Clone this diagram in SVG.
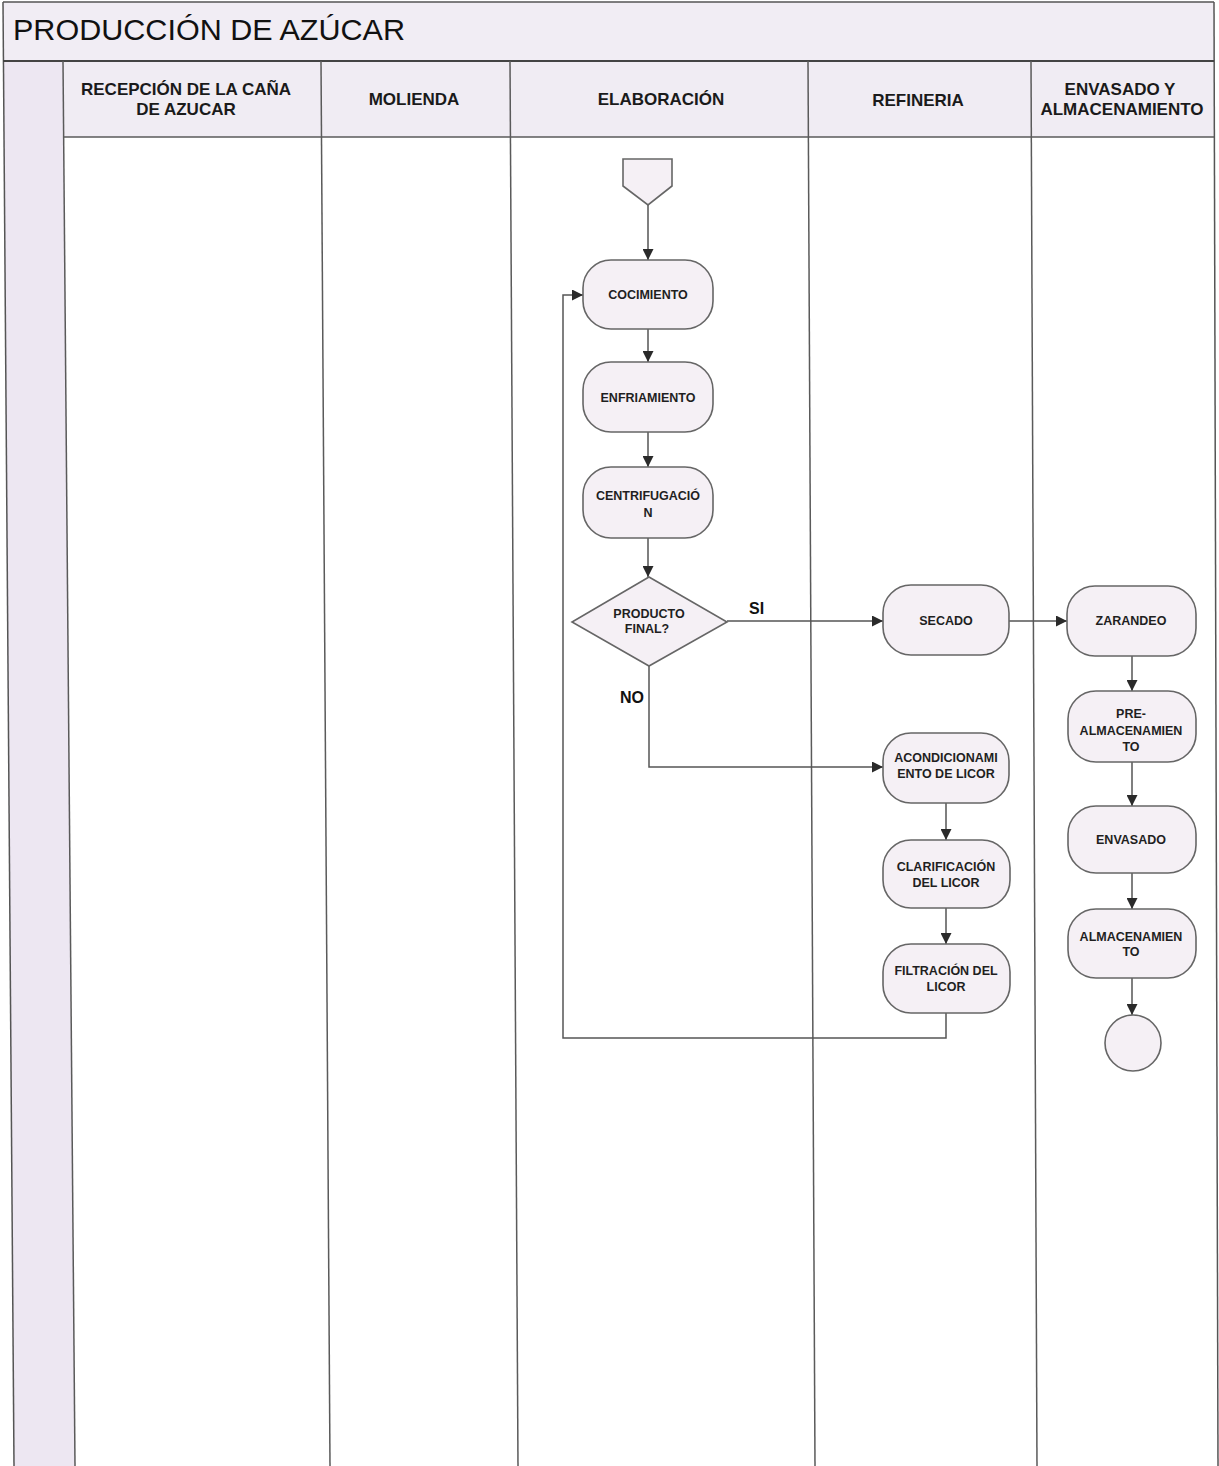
<svg xmlns="http://www.w3.org/2000/svg" width="1219" height="1466" viewBox="0 0 1219 1466">
<style>
.frame{fill:none;stroke:#555;stroke-width:1.5}
.lane{stroke:#5a5a5a;stroke-width:1.5}
.hdr{font-family:"Liberation Sans",Arial,sans-serif;font-weight:bold;font-size:17px;fill:#1a1a1a;text-anchor:middle}
.title{font-family:"Liberation Sans",Arial,sans-serif;font-size:29px;fill:#111}
.node{fill:#f5f0f5;stroke:#666;stroke-width:1.6}
.nt{font-family:"Liberation Sans",Arial,sans-serif;font-weight:bold;font-size:12.5px;fill:#1f1f1f;text-anchor:middle}
.lbl{font-family:"Liberation Sans",Arial,sans-serif;font-weight:bold;font-size:16px;fill:#111}
.conn{fill:none;stroke:#555;stroke-width:1.5}
</style>
<defs>
<marker id="arr" viewBox="0 0 10 10" refX="10" refY="5" markerWidth="11" markerHeight="11" markerUnits="userSpaceOnUse" orient="auto">
<path d="M0,0 L10,5 L0,10 z" fill="#2a2a2a"/>
</marker>
</defs>
<rect width="1219" height="1466" fill="#ffffff"/>
<g id="pool">
<rect x="3" y="2" width="1211" height="59" fill="#f1edf4"/>
<polygon points="3,61 63,61 75,1466 14,1466" fill="#ede7f2"/>
<rect x="63" y="61" width="1151" height="76" fill="#f0ecf3"/>
<line class="frame" x1="3" y1="2" x2="1214" y2="2"/>
<line class="frame" x1="3" y1="2" x2="14" y2="1466"/>
<line class="frame" x1="1214" y1="2" x2="1218" y2="1466"/>
<line x1="3" y1="61" x2="1214" y2="61" stroke="#444" stroke-width="2.2"/>
<line class="lane" x1="63" y1="137" x2="1214" y2="137"/>
<line class="lane" x1="63" y1="61" x2="75" y2="1466"/>
<line class="lane" x1="321" y1="61" x2="330" y2="1466"/>
<line class="lane" x1="510" y1="61" x2="518" y2="1466"/>
<line class="lane" x1="808" y1="61" x2="815" y2="1466"/>
<line class="lane" x1="1031" y1="61" x2="1037" y2="1466"/>
<text class="title" x="13" y="40" textLength="392" lengthAdjust="spacingAndGlyphs">PRODUCCIÓN DE AZÚCAR</text>
<text class="hdr" x="186" y="95">RECEPCIÓN DE LA CAÑA</text>
<text class="hdr" x="186" y="115">DE AZUCAR</text>
<text class="hdr" x="414" y="105">MOLIENDA</text>
<text class="hdr" x="661" y="105">ELABORACIÓN</text>
<text class="hdr" x="918" y="106">REFINERIA</text>
<text class="hdr" x="1120" y="95">ENVASADO Y</text>
<text class="hdr" x="1122" y="115">ALMACENAMIENTO</text>
</g>
<g id="connectors">
<line class="conn" x1="648" y1="205" x2="648" y2="260" marker-end="url(#arr)"/>
<line class="conn" x1="648" y1="329" x2="648" y2="362" marker-end="url(#arr)"/>
<line class="conn" x1="648" y1="432" x2="648" y2="467" marker-end="url(#arr)"/>
<line class="conn" x1="648" y1="538" x2="648" y2="577" marker-end="url(#arr)"/>
<line class="conn" x1="727" y1="621" x2="883" y2="621" marker-end="url(#arr)"/>
<line class="conn" x1="1009" y1="621" x2="1067" y2="621" marker-end="url(#arr)"/>
<polyline class="conn" points="649,666 649,767 883,767" marker-end="url(#arr)"/>
<line class="conn" x1="1132" y1="656" x2="1132" y2="691" marker-end="url(#arr)"/>
<line class="conn" x1="1132" y1="762" x2="1132" y2="806" marker-end="url(#arr)"/>
<line class="conn" x1="1132" y1="873" x2="1132" y2="909" marker-end="url(#arr)"/>
<line class="conn" x1="1132" y1="978" x2="1132" y2="1015" marker-end="url(#arr)"/>
<line class="conn" x1="946" y1="803" x2="946" y2="840" marker-end="url(#arr)"/>
<line class="conn" x1="946" y1="908" x2="946" y2="944" marker-end="url(#arr)"/>
<polyline class="conn" points="946,1013 946,1038 563,1038 563,295 583,295" marker-end="url(#arr)"/>
<text class="lbl" x="749" y="614">SI</text>
<text class="lbl" x="620" y="703">NO</text>
</g>
<g id="start"><polygon class="node" points="623,159 672,159 672,186 648,205 623,186"/></g>
<g id="cocimiento"><rect class="node" x="583" y="260" width="130" height="69" rx="28"/><text class="nt" x="648" y="298.5">COCIMIENTO</text></g>
<g id="enfriamiento"><rect class="node" x="583" y="362" width="130" height="70" rx="28"/><text class="nt" x="648" y="401.5">ENFRIAMIENTO</text></g>
<g id="centrifugacion"><rect class="node" x="583" y="467" width="130" height="71" rx="28"/><text class="nt" x="648" y="499.5">CENTRIFUGACIÓ</text><text class="nt" x="648" y="516.5">N</text></g>
<g id="decision"><polygon class="node" points="649,577 727,622 649,666 572,622"/><text class="nt" x="649" y="617.5">PRODUCTO</text><text class="nt" x="647" y="632.5">FINAL?</text></g>
<g id="secado"><rect class="node" x="883" y="585" width="126" height="70" rx="28"/><text class="nt" x="946" y="624.5">SECADO</text></g>
<g id="zarandeo"><rect class="node" x="1067" y="586" width="129" height="70" rx="28"/><text class="nt" x="1131" y="624.5">ZARANDEO</text></g>
<g id="prealmacenamiento"><rect class="node" x="1068" y="691" width="128" height="71" rx="28"/><text class="nt" x="1131" y="717.5">PRE-</text><text class="nt" x="1131" y="734.5">ALMACENAMIEN</text><text class="nt" x="1131" y="750.5">TO</text></g>
<g id="envasado"><rect class="node" x="1068" y="806" width="128" height="67" rx="28"/><text class="nt" x="1131" y="843.5">ENVASADO</text></g>
<g id="almacenamiento"><rect class="node" x="1068" y="909" width="128" height="69" rx="28"/><text class="nt" x="1131" y="940.5">ALMACENAMIEN</text><text class="nt" x="1131" y="955.5">TO</text></g>
<g id="end"><circle class="node" cx="1133" cy="1043" r="28"/></g>
<g id="acondicionamiento"><rect class="node" x="883" y="733" width="126" height="70" rx="28"/><text class="nt" x="946" y="761.5">ACONDICIONAMI</text><text class="nt" x="946" y="777.5">ENTO DE LICOR</text></g>
<g id="clarificacion"><rect class="node" x="883" y="840" width="127" height="68" rx="28"/><text class="nt" x="946" y="870.5">CLARIFICACIÓN</text><text class="nt" x="946" y="886.5">DEL LICOR</text></g>
<g id="filtracion"><rect class="node" x="883" y="944" width="127" height="69" rx="28"/><text class="nt" x="946" y="974.5">FILTRACIÓN DEL</text><text class="nt" x="946" y="990.5">LICOR</text></g>
</svg>
